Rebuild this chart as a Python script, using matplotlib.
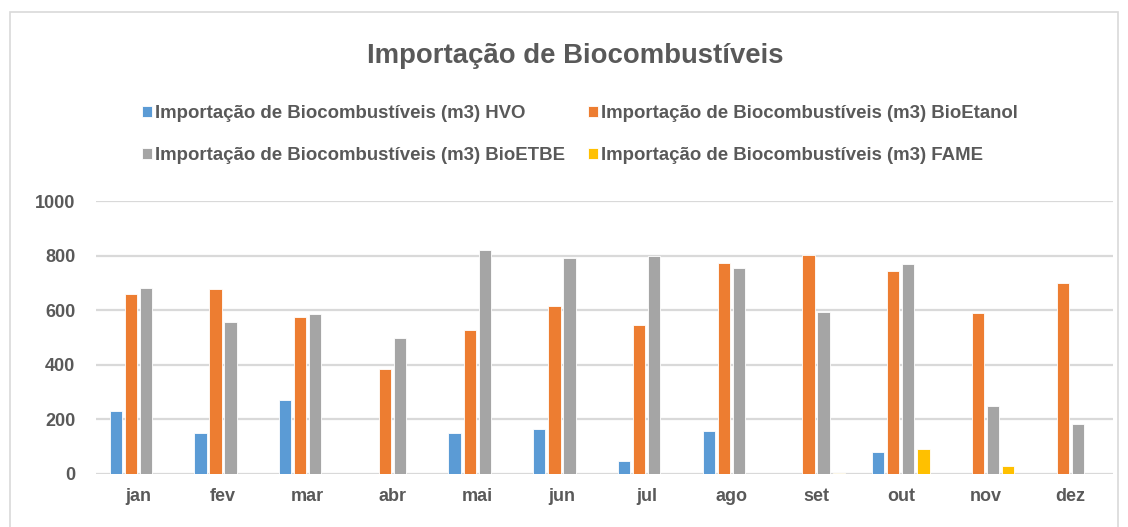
import matplotlib.pyplot as plt
import matplotlib.patches as mpatches
import numpy as np

months = ["jan", "fev", "mar", "abr", "mai", "jun", "jul", "ago", "set", "out", "nov", "dez"]
hvo = [231, 149, 270, 0, 149, 164, 47, 156, 0, 80, 0, 0]
bioetanol = [660, 679, 576, 384, 528, 615, 546, 775, 805, 745, 591, 702]
bioetbe = [683, 558, 587, 498, 822, 793, 799, 756, 595, 772, 248, 185]
fame = [0, 0, 0, 0, 0, 0, 0, 0, 3, 90, 29, 0]

series = [
    ("Importação de Biocombustíveis (m3) HVO", hvo, "#5B9BD5"),
    ("Importação de Biocombustíveis (m3) BioEtanol", bioetanol, "#ED7D31"),
    ("Importação de Biocombustíveis (m3) BioETBE", bioetbe, "#A5A5A5"),
    ("Importação de Biocombustíveis (m3) FAME", fame, "#FFC000"),
]

plt.rcParams["font.family"] = ["Liberation Sans", "DejaVu Sans"]
plt.rcParams["font.weight"] = "bold"
txt = "#595959"

fig = plt.figure(figsize=(11.28, 5.27), dpi=100)
ax = fig.add_axes([0.0851, 0.1006, 0.9012, 0.5171])

x = np.arange(len(months))
step = 0.178
width = 0.145
handles = []
for i, (name, vals, col) in enumerate(series):
    b = ax.bar(x + (i - 1.5) * step, vals, width, color=col, edgecolor="white",
               linewidth=0.6, label=name, zorder=3)
    handles.append(b)

ax.set_xlim(-0.5, len(months) - 0.5)
ax.set_ylim(0, 1000)
ax.set_yticks(range(0, 1001, 200))
ax.set_xticks(x)
ax.set_xticklabels(months)
ax.grid(axis="y", color="#d9d9d9", linewidth=1.6, zorder=0)
for s in ax.spines.values():
    s.set_visible(False)
ax.tick_params(axis="both", length=0, labelsize=13, labelcolor=txt)
ax.tick_params(axis="y", pad=15)
ax.tick_params(axis="x", pad=10)

fig.text(0.51, 0.893, "Importação de Biocombustíveis", ha="center", va="center",
         fontsize=19.8, fontweight="bold", color=txt)

order = [0, 2, 1, 3]
leg = fig.legend([handles[k] for k in order], [series[k][0] for k in order],
                 ncol=2, loc="center", bbox_to_anchor=(0.514, 0.744),
                 frameon=False, fontsize=13.4, handlelength=0.55, handleheight=0.55,
                 handletextpad=0.15, columnspacing=1.2, labelspacing=1.35)
for t in leg.get_texts():
    t.set_color(txt)

fig.patches.append(mpatches.Rectangle((0.009, -0.01), 0.982, 0.987, transform=fig.transFigure,
                                      fill=False, edgecolor="#d9d9d9", linewidth=1.2))

fig.savefig("out.png", dpi=100)
